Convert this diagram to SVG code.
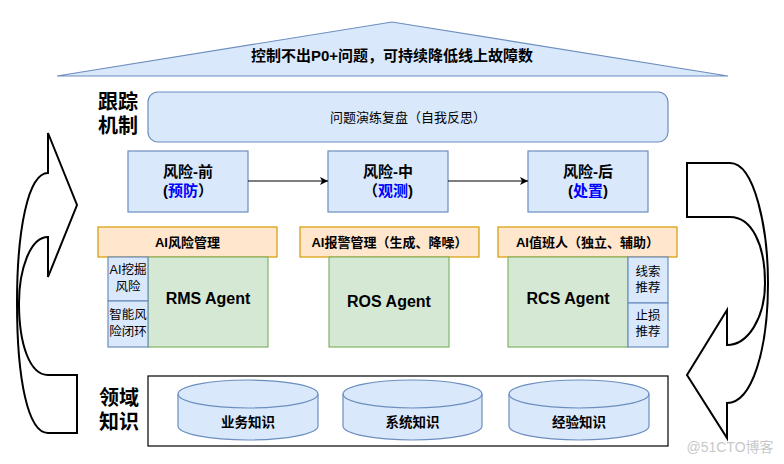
<svg xmlns="http://www.w3.org/2000/svg" width="784" height="464" viewBox="0 0 784 464">
<defs>
<marker id="ah" markerWidth="10" markerHeight="10" refX="9" refY="5" orient="auto" markerUnits="userSpaceOnUse">
<path d="M1,1 L9,5 L1,9 L3,5 z" fill="#000"/>
</marker>
</defs>
<style>
text{font-family:"Liberation Sans","Noto Sans CJK SC",sans-serif;fill:#000;text-anchor:middle;dominant-baseline:central}
.b{font-weight:bold}
.blue{fill:#dae8fc;stroke:#6c8ebf;stroke-width:1.2}
.org{fill:#ffe6cc;stroke:#d79b00;stroke-width:1.2}
.grn{fill:#d5e8d4;stroke:#82b366;stroke-width:1.2}
.big{font-size:20px;font-weight:bold}
.hd{font-size:15px;font-weight:bold}
.sm{font-size:12.5px}
.ag{font-size:16px;font-weight:bold}
.uturn{fill:#fff;stroke:#000;stroke-width:2;stroke-linejoin:miter}
.bl{fill:#0000ff}
</style>
<rect width="784" height="464" fill="#fff"/>

<g id="goal">
<path d="M57,76 L392,22 L728,76 Z" class="blue"/>
<text x="392" y="55" class="b" font-size="15">控制不出P0+问题，可持续降低线上故障数</text>
</g>

<g id="label-track">
<text x="118" y="102" class="big">跟踪</text>
<text x="118" y="126" class="big">机制</text>
</g>

<g id="review">
<rect x="148" y="92" width="520" height="50" rx="10" ry="10" class="blue"/>
<text x="408" y="117" font-size="13">问题演练复盘（自我反思）</text>
</g>

<g id="risk-pre">
<rect x="128" y="151" width="120" height="61" class="blue"/>
<text x="188" y="171" class="hd">风险-前</text>
<text x="188" y="190" class="hd">(<tspan class="bl">预防</tspan>）</text>
</g>
<g id="risk-mid">
<rect x="328" y="151" width="120" height="61" class="blue"/>
<text x="388" y="171" class="hd">风险-中</text>
<text x="388" y="190" class="hd">（<tspan class="bl">观测</tspan>)</text>
</g>
<g id="risk-post">
<rect x="528" y="151" width="120" height="61" class="blue"/>
<text x="588" y="171" class="hd">风险-后</text>
<text x="588" y="190" class="hd">(<tspan class="bl">处置</tspan>)</text>
</g>

<g id="connectors">
<line x1="248" y1="181" x2="328" y2="181" stroke="#000" stroke-width="1.2" marker-end="url(#ah)"/>
<line x1="448" y1="181" x2="528" y2="181" stroke="#000" stroke-width="1.2" marker-end="url(#ah)"/>
</g>

<g id="rms">
<rect x="98" y="227" width="179" height="30" class="org"/>
<text x="187.5" y="242" class="b" font-size="13">AI风险管理</text>
<rect x="148" y="257" width="120" height="90" class="grn"/>
<text x="208" y="298" class="ag">RMS Agent</text>
<rect x="108" y="257" width="40" height="44" class="blue"/>
<text x="128" y="270" class="sm">AI挖掘</text>
<text x="128" y="287" class="sm">风险</text>
<rect x="108" y="301" width="40" height="46" class="blue"/>
<text x="128" y="315" class="sm">智能风</text>
<text x="128" y="332" class="sm">险闭环</text>
</g>

<g id="ros">
<rect x="300" y="227" width="179" height="30" class="org"/>
<text x="389.5" y="242" class="b" font-size="13">AI报警管理（生成、降噪）</text>
<rect x="329" y="257" width="120" height="90" class="grn"/>
<text x="389" y="301" class="ag">ROS Agent</text>
</g>

<g id="rcs">
<rect x="498" y="227" width="179" height="30" class="org"/>
<text x="587.5" y="242" class="b" font-size="13">AI值班人（独立、辅助）</text>
<rect x="508" y="257" width="120" height="90" class="grn"/>
<text x="568" y="298" class="ag">RCS Agent</text>
<rect x="628" y="257" width="40" height="46" class="blue"/>
<text x="648" y="272" class="sm">线索</text>
<text x="648" y="288" class="sm">推荐</text>
<rect x="628" y="303" width="40" height="44" class="blue"/>
<text x="648" y="316" class="sm">止损</text>
<text x="648" y="332" class="sm">推荐</text>
</g>

<g id="label-domain">
<text x="119" y="398" class="big">领域</text>
<text x="119" y="422" class="big">知识</text>
</g>

<g id="knowledge">
<rect x="148" y="376" width="520" height="70" fill="#fff" stroke="#000" stroke-width="1.2"/>
</g>
<g id="kb-business">
<path d="M178,394 a70,14 0 0,1 140,0 v32 a70,14 0 0,1 -140,0 z" class="blue"/>
<path d="M178,394 a70,14 0 0,0 140,0" fill="none" stroke="#6c8ebf" stroke-width="1.2"/>
<text x="248" y="422" class="b" font-size="13.5">业务知识</text>
</g>
<g id="kb-system">
<path d="M343,394 a69.5,14 0 0,1 139,0 v32 a69.5,14 0 0,1 -139,0 z" class="blue"/>
<path d="M343,394 a69.5,14 0 0,0 139,0" fill="none" stroke="#6c8ebf" stroke-width="1.2"/>
<text x="412.5" y="422" class="b" font-size="13.5">系统知识</text>
</g>
<g id="kb-experience">
<path d="M509,394 a70,14 0 0,1 140,0 v32 a70,14 0 0,1 -140,0 z" class="blue"/>
<path d="M509,394 a70,14 0 0,0 140,0" fill="none" stroke="#6c8ebf" stroke-width="1.2"/>
<text x="579" y="422" class="b" font-size="13.5">经验知识</text>
</g>

<g id="loop-left">
<path class="uturn" d="M77,433 L48,433 C28,433 17,380 17,303 C17,230 28,173 48,173 L48,133 L77,205 L48,277 L48,237 C30,237 19,270 19,303 C19,345 30,375 48,375 L77,375 Z"/>
</g>
<g id="loop-right">
<path class="uturn" d="M687,163 L730,163 C755,163 768,230 768,283 C768,350 752,403 727,403 L727,438 L687,375 L727,310 L727,345 C748,345 765,318 765,283 C765,245 752,217 730,217 L687,217 Z"/>
</g>

<text x="730" y="447" font-size="14" style="fill:#c8c8c8">@51CTO博客</text>
</svg>
